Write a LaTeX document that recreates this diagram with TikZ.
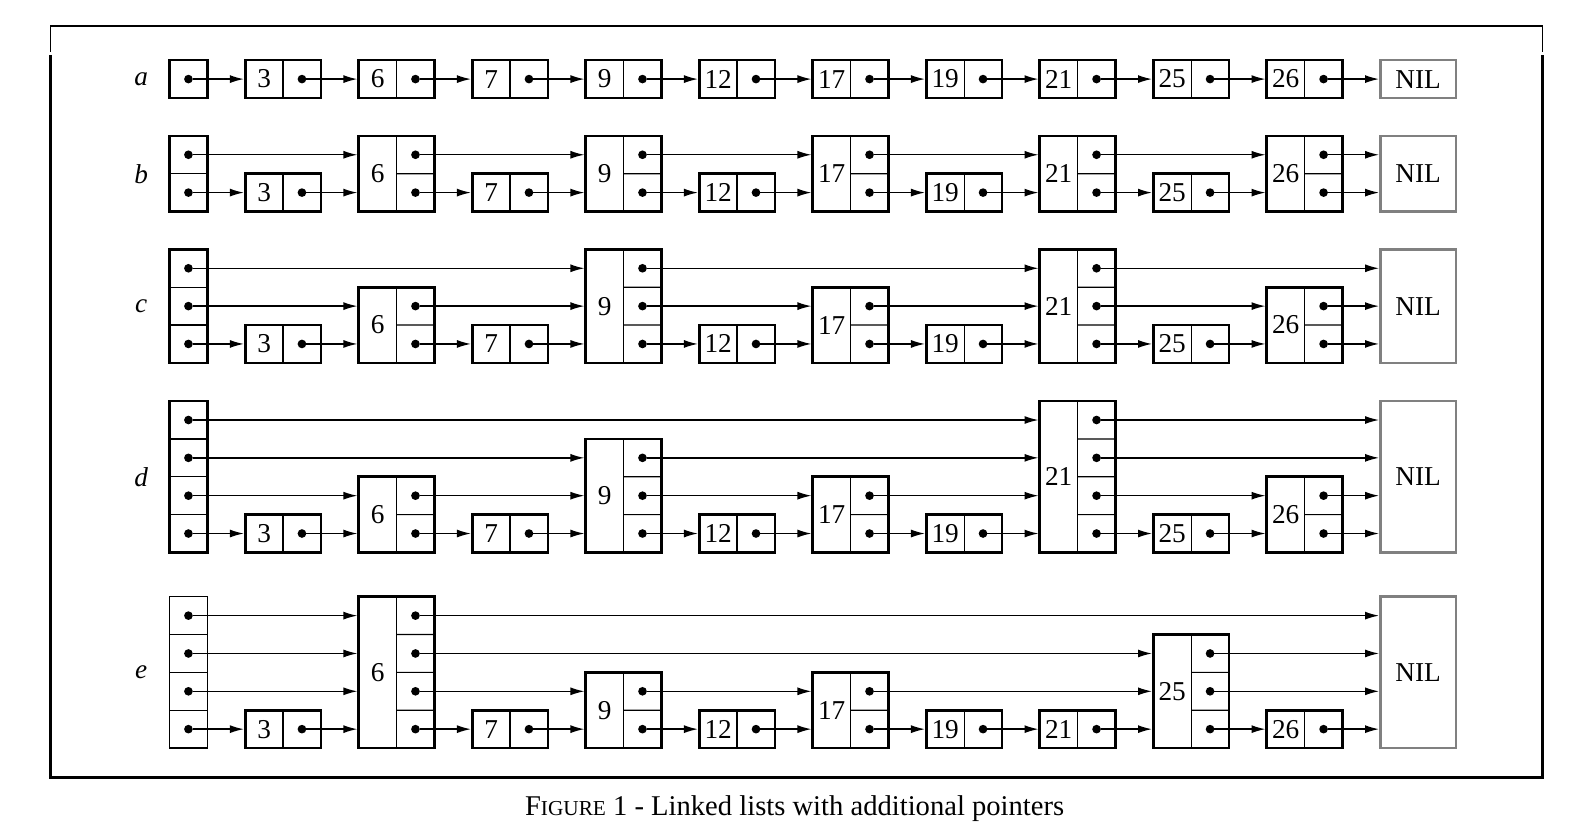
\documentclass[tikz,border=0pt]{standalone}
\usepackage{fontspec}
\setmainfont{Liberation Serif}
\usetikzlibrary{arrows.meta}

\begin{document}
\begin{tikzpicture}[
    x = 1cm,
    y = 1cm,
    >={Latex[length=10.5pt,width=6pt]},
    listnode/.style = {draw, line width=2pt, minimum width=2cm,
              inner sep=0pt, outer sep=0pt, anchor=south west},
    headnode/.style = {draw, minimum width=1cm,
              inner sep=0pt, outer sep=0pt, anchor=south west},
    nilnode/.style = {listnode, draw=black!50},
    ptr/.style = {circle, fill=black, minimum size=6.5pt,
              inner sep=0pt, outer sep=0pt},
    link/.style = {->, line width=1pt, shorten >=1pt},
    divider/.style = {line width=0.9pt},
    keytext/.style = {font=\fontsize{20.5}{24}\selectfont, inner sep=0pt},
    rowname/.style = {font=\fontsize{20.5}{24}\selectfont\itshape, inner sep=0pt},
    ]

\useasboundingbox (-3.48,-22.16) rectangle (38.33,0);

% frame
\draw[line width=1pt] (-2.14,-1.37) -- (-2.14,-0.69) -- (37.29,-0.69) -- (37.29,-1.37);
\draw[line width=2.3pt] (-2.14,-1.45) -- (-2.14,-20.56) -- (37.29,-20.56) -- (37.29,-1.45);

% the five lists
\foreach \row/\ybot/\nlev/\hw/\levels in {
    a/-2.59/1/2pt/{3/1,6/1,7/1,9/1,12/1,17/1,19/1,21/1,25/1,26/1},
    b/-5.59/2/2pt/{3/1,6/2,7/1,9/2,12/1,17/2,19/1,21/2,25/1,26/2},
    c/-9.59/3/2pt/{3/1,6/2,7/1,9/3,12/1,17/2,19/1,21/3,25/1,26/2},
    d/-14.6/4/2pt/{3/1,6/2,7/1,9/3,12/1,17/2,19/1,21/4,25/1,26/2},
    e/-19.77/4/0.9pt/{3/1,6/4,7/1,9/2,12/1,17/2,19/1,21/1,25/3,26/1}}
{
  % head
  \node[headnode, line width=\hw, minimum height=\nlev cm] (\row head) at (1,\ybot) {};
  \node[rowname] (\row name) at ([xshift=-0.75cm]\row head.west) {\row};
  \foreach \lev in {1,...,\nlev} {
    \node[ptr] (\row headp\lev) at ([shift={(0.5,\lev-0.5)}]\row head.south west) {};
    \ifnum\lev>1 \draw[divider] ([yshift=\lev cm-1cm]\row head.south west) -- ([yshift=\lev cm-1cm]\row head.south east); \fi
    \expandafter\xdef\csname last\lev\endcsname{\row head}
  }

  % keyed nodes
  \foreach \key/\nh [count=\col] in \levels {
    \node[listnode, minimum height=\nh cm] (\row\key) at (3*\col,\ybot) {};
    \node[keytext] (\row\key text) at ([xshift=0.5cm]\row\key.west) {\key};
    \draw[divider] ([xshift=1cm]\row\key.south west) -- ([xshift=1cm]\row\key.north west);
    \foreach \lev in {1,...,\nh} {
      \node[ptr] (\row\key p\lev) at ([shift={(1.5,\lev-0.5)}]\row\key.south west) {};
      \ifnum\lev>1 \draw[divider] ([shift={(1,\lev-1)}]\row\key.south west) -- ([yshift=\lev cm-1cm]\row\key.south east); \fi
      \edef\prev{\csname last\lev\endcsname}
      \draw[link] (\prev p\lev) -- (\prev p\lev -| \row\key.west);
      \expandafter\xdef\csname last\lev\endcsname{\row\key}
    }
  }

  % NIL
  \node[nilnode, minimum height=\nlev cm] (\row nil) at (33,\ybot) {};
  \node[keytext] (\row niltext) at (\row nil) {NIL};
  \foreach \lev in {1,...,\nlev} {
    \edef\prev{\csname last\lev\endcsname}
    \draw[link] (\prev p\lev) -- (\prev p\lev -| \row nil.west);
  }
}

\node[font=\fontsize{21.5}{25}\selectfont, anchor=base, inner sep=0pt] (caption) at (17.52,-21.54)
  {F{\fontsize{16}{18}\selectfont IGURE} 1 - Linked lists with additional pointers};

\end{tikzpicture}
\end{document}
